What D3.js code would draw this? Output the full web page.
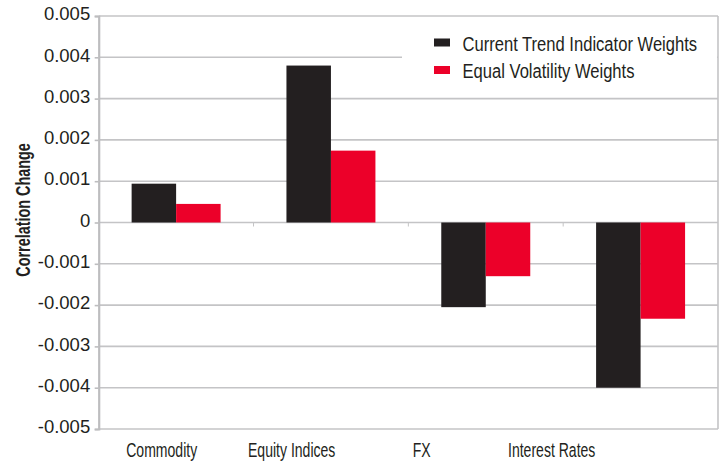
<!DOCTYPE html>
<html>
<head>
<meta charset="utf-8">
<script src="https://cdn.jsdelivr.net/npm/d3@7/dist/d3.min.js"></script>
<style>
  body { margin: 0; background: #fff; }
  text { font-family: "Liberation Sans", Arial, sans-serif; fill: #231f20; }
</style>
</head>
<body>
<svg id="chart" width="725" height="461"></svg>
<script>
var categories = ["Commodity", "Equity Indices", "FX", "Interest Rates"];
var seriesNames = ["Current Trend Indicator Weights", "Equal Volatility Weights"];
var currentTrend = [0.00094, 0.0038, -0.00205, -0.004];
var equalVol = [0.00045, 0.00174, -0.0013, -0.00233];
var yTicks = [-0.005, -0.004, -0.003, -0.002, -0.001, 0, 0.001, 0.002, 0.003, 0.004, 0.005];
var colors = ["#231f20", "#ec0029"];

var margin = { top: 16, right: 7, bottom: 32, left: 98.7 };
var width = 725 - margin.left - margin.right;
var height = 461 - margin.top - margin.bottom;

// the original uses a condensed face, so squeeze the text horizontally
var narrowCat = 0.72, narrowLegend = 0.79, narrowTitle = 0.72;

var svg = d3.select("#chart");
var g = svg.append("g").attr("transform", "translate(" + margin.left + "," + margin.top + ")");

var y = d3.scaleLinear().domain([-0.005, 0.005]).range([height, 0]);

var x0 = d3.scaleBand().domain(categories).range([0, width]).padding(0);
var x1 = d3.scaleBand().domain(seriesNames).range([0, x0.bandwidth()])
  .paddingInner(0).paddingOuter(0.74);

// labels sit a bit off the bars in the original
var xLab = d3.scaleBand().domain(categories).range([-2, 518]).padding(0);

// gridlines
g.append("g").selectAll("line")
  .data(yTicks)
  .enter().append("line")
  .attr("x1", 0).attr("x2", width)
  .attr("y1", function (d) { return y(d); })
  .attr("y2", function (d) { return y(d); })
  .attr("stroke", "#c4c4c6")
  .attr("stroke-width", 1.6);

// right border
g.append("line")
  .attr("x1", width).attr("x2", width)
  .attr("y1", 0).attr("y2", height)
  .attr("stroke", "#c4c4c6").attr("stroke-width", 1.6);

// bars
var data = categories.map(function (c, i) {
  return { cat: c, values: [currentTrend[i], equalVol[i]] };
});

var groups = g.append("g").selectAll("g")
  .data(data)
  .enter().append("g")
  .attr("transform", function (d) { return "translate(" + x0(d.cat) + ",0)"; });

groups.selectAll("rect")
  .data(function (d) { return d.values.map(function (v, j) { return { s: seriesNames[j], v: v, j: j }; }); })
  .enter().append("rect")
  .attr("x", function (d) { return x1(d.s); })
  .attr("width", x1.bandwidth())
  .attr("y", function (d) { return y(Math.max(0, d.v)); })
  .attr("height", function (d) { return Math.abs(y(d.v) - y(0)); })
  .attr("fill", function (d) { return colors[d.j]; });

// category ticks on zero line
g.append("g").selectAll("line")
  .data(categories.slice(1))
  .enter().append("line")
  .attr("x1", function (d) { return x0(d); })
  .attr("x2", function (d) { return x0(d); })
  .attr("y1", y(0)).attr("y2", y(0) + 4)
  .attr("stroke", "#c4c4c6").attr("stroke-width", 1);

// y axis
var yAxis = g.append("g")
  .call(d3.axisLeft(y).tickValues(yTicks).tickSize(4).tickPadding(4.5)
    .tickFormat(function (d) { return Math.abs(d) < 1e-9 ? "0" : d.toFixed(3); }));
yAxis.select(".domain").attr("stroke", "#bdbdbf").attr("stroke-width", 2.2);
yAxis.selectAll(".tick line").attr("stroke", "#bdbdbf").attr("stroke-width", 1.6);
yAxis.selectAll(".tick text")
  .attr("dy", "0.2em")
  .style("font-family", "'Liberation Sans', Arial, sans-serif")
  .style("font-size", "18.5px")
  .attr("fill", "#231f20");

// category labels
g.append("g").selectAll("text")
  .data(categories)
  .enter().append("text")
  .attr("transform", function (d) {
    return "translate(" + (xLab(d) + xLab.bandwidth() / 2) + "," + (height + 27.5) + ") scale(" + narrowCat + ",1)";
  })
  .attr("text-anchor", "middle")
  .style("font-size", "19.5px")
  .text(function (d) { return d; });

// y axis title
svg.append("text")
  .attr("transform", "translate(29.5,210) rotate(-90) scale(" + narrowTitle + ",1)")
  .attr("text-anchor", "middle")
  .style("font-size", "20px")
  .style("font-weight", "bold")
  .text("Correlation Change");

// legend
var legend = svg.append("g");
legend.append("rect")
  .attr("x", 402).attr("y", 17.5)
  .attr("width", 315).attr("height", 74)
  .attr("fill", "#fff");

var legendItems = legend.selectAll("g.item")
  .data(seriesNames)
  .enter().append("g")
  .attr("class", "item")
  .attr("transform", function (d, i) { return "translate(434," + (38.5 + i * 27.5) + ")"; });

legendItems.append("rect")
  .attr("width", 16).attr("height", 8)
  .attr("fill", function (d, i) { return colors[i]; });

legendItems.append("text")
  .attr("transform", "translate(28.5,12.3) scale(" + narrowLegend + ",1)")
  .style("font-size", "21px")
  .text(function (d) { return d; });
</script>
</body>
</html>
